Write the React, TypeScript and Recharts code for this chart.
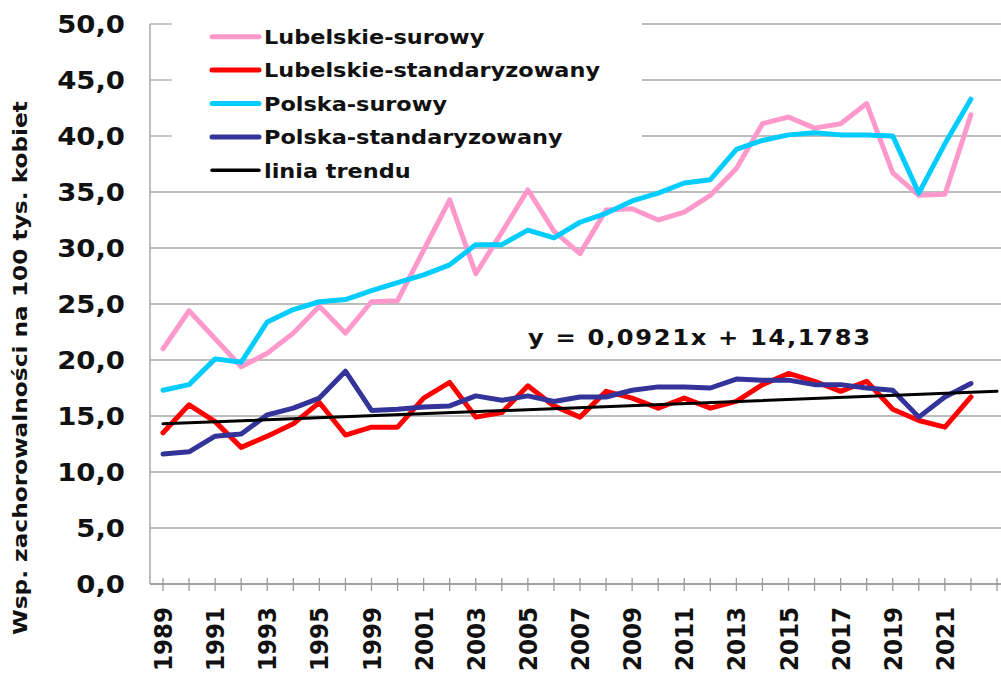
import React from 'react';
import { CartesianGrid, Line, LineChart, XAxis, YAxis } from 'recharts';

// categories (one year between 1995 and 1999 only; last slot is the trend's forward period)
const years = [
  '1989', '1990', '1991', '1992', '1993', '1994', '1995', '1997', '1999', '2000',
  '2001', '2002', '2003', '2004', '2005', '2006', '2007', '2008', '2009', '2010',
  '2011', '2012', '2013', '2014', '2015', '2016', '2017', '2018', '2019', '2020',
  '2021', '2022', '',
];
const labeledYears = [
  '1989', '1991', '1993', '1995', '1999', '2001', '2003', '2005',
  '2007', '2009', '2011', '2013', '2015', '2017', '2019', '2021',
];

const lubelskieSurowy = [
  21.0, 24.4, 21.9, 19.4, 20.6, 22.4, 24.8, 22.4, 25.2, 25.3,
  29.8, 34.3, 27.7, 31.4, 35.2, 31.5, 29.5, 33.4, 33.5, 32.5,
  33.2, 34.7, 37.1, 41.1, 41.7, 40.7, 41.1, 42.9, 36.7, 34.7,
  34.8, 41.9,
];
const lubelskieStd = [
  13.5, 16.0, 14.5, 12.2, 13.2, 14.3, 16.2, 13.3, 14.0, 14.0,
  16.6, 18.0, 14.9, 15.3, 17.7, 15.9, 14.9, 17.2, 16.6, 15.7,
  16.6, 15.7, 16.3, 17.8, 18.8, 18.1, 17.2, 18.1, 15.6, 14.6,
  14.0, 16.7,
];
const polskaSurowy = [
  17.3, 17.8, 20.1, 19.8, 23.4, 24.5, 25.2, 25.4, 26.2, 26.9,
  27.6, 28.5, 30.3, 30.3, 31.6, 30.9, 32.3, 33.1, 34.2, 34.9,
  35.8, 36.1, 38.8, 39.6, 40.1, 40.3, 40.1, 40.1, 40.0, 34.9,
  39.3, 43.3,
];
const polskaStd = [
  11.6, 11.8, 13.2, 13.4, 15.1, 15.7, 16.6, 19.0, 15.5, 15.6,
  15.8, 15.9, 16.8, 16.4, 16.8, 16.3, 16.7, 16.7, 17.3, 17.6,
  17.6, 17.5, 18.3, 18.2, 18.2, 17.8, 17.8, 17.5, 17.3, 14.9,
  16.7, 17.9,
];
// trend line end points
const trendStart = 14.3;
const trendEnd = 17.2;

const yTicks = [0, 5, 10, 15, 20, 25, 30, 35, 40, 45, 50];

const series = [
  { key: 'lubSur', name: 'Lubelskie-surowy', color: '#FF99CC', width: 5 },
  { key: 'lubStd', name: 'Lubelskie-standaryzowany', color: '#FF0000', width: 5 },
  { key: 'plSur', name: 'Polska-surowy', color: '#00CCFF', width: 5 },
  { key: 'plStd', name: 'Polska-standaryzowany', color: '#333399', width: 5 },
  { key: 'trend', name: 'linia trendu', color: '#000000', width: 3 },
];

const data = years.map((year, i) => ({
  year,
  lubSur: lubelskieSurowy[i] ?? null,
  lubStd: lubelskieStd[i] ?? null,
  plSur: polskaSurowy[i] ?? null,
  plStd: polskaStd[i] ?? null,
  trend: i === 0 ? trendStart : i === years.length - 1 ? trendEnd : null,
}));

const FONT = '"DejaVu Sans", Verdana, sans-serif';
const AXIS_GRAY = '#9a9a9a';
const GRID_GRAY = '#a6a6a6';

// legend box (white in the original, it hides the top gridlines)
const LEG = { x: 172, y: 20, w: 470, row: 33.4 };
const LEG_BOTTOM = LEG.y + LEG.row * series.length;

function GridLine(props: any) {
  const { x1, x2, y1, y2 } = props;
  const common = { stroke: GRID_GRAY, strokeWidth: 1.3, fill: 'none' };
  if (y1 > LEG.y && y1 < LEG_BOTTOM) {
    return (
      <g>
        <line x1={x1} x2={LEG.x} y1={y1} y2={y2} {...common} />
        <line x1={LEG.x + LEG.w} x2={x2} y1={y1} y2={y2} {...common} />
      </g>
    );
  }
  return <line x1={x1} x2={x2} y1={y1} y2={y2} {...common} />;
}

function YearTick(props: any) {
  const { x, y, payload } = props;
  const show = labeledYears.includes(payload.value);
  return (
    <g>
      <line x1={x} x2={x} y1={y - 6} y2={y + 7} stroke={AXIS_GRAY} strokeWidth={1.3} />
      {show && (
        <text
          transform={`translate(${x},${y + 23}) scale(1.1,1) rotate(-90)`}
          textAnchor="end"
          dy="0.36em"
          fontFamily={FONT}
          fontWeight="bold"
          fontSize={23}
          fill="#111"
        >
          {payload.value}
        </text>
      )}
    </g>
  );
}

function ValueTick(props: any) {
  const { x, y, payload } = props;
  return (
    <text
      transform={`translate(${x},${y}) scale(1.1,1)`}
      textAnchor="end"
      dy="0.36em"
      fontFamily={FONT}
      fontWeight="bold"
      fontSize={25}
      fill="#111"
    >
      {payload.value.toFixed(1).replace('.', ',')}
    </text>
  );
}

function LegendBox() {
  return (
    <g>
      {series.map((s, i) => {
        const cy = LEG.y + LEG.row * (i + 0.5);
        return (
          <g key={s.key}>
            <line
              x1={212}
              x2={259}
              y1={cy}
              y2={cy}
              stroke={s.color}
              strokeWidth={s.width === 5 ? 5 : 3.5}
              strokeLinecap="round"
            />
            <text
              transform={`translate(264,${cy + 7.3}) scale(1.12,1)`}
              fontFamily={FONT}
              fontWeight="bold"
              fontSize={20}
              fill="#111"
            >
              {s.name}
            </text>
          </g>
        );
      })}
    </g>
  );
}

export default function App() {
  return (
    <div style={{ position: 'absolute', left: 0, top: 0, width: 1001, height: 673 }}>
      <LineChart width={1001} height={673} data={data} margin={{ top: 24, right: 0, bottom: 0, left: 0 }}>
        <CartesianGrid vertical={false} horizontal={(p: any) => <GridLine {...p} />} />
        <XAxis
          dataKey="year"
          height={89}
          interval={0}
          padding={{ left: 13, right: 4 }}
          tickLine={false}
          tickSize={0}
          tickMargin={0}
          tick={<YearTick />}
          axisLine={{ stroke: AXIS_GRAY, strokeWidth: 1.3 }}
        />
        <YAxis
          width={150}
          domain={[0, 50]}
          ticks={yTicks}
          interval={0}
          tickLine={false}
          tickSize={0}
          tickMargin={25}
          tick={<ValueTick />}
          axisLine={{ stroke: AXIS_GRAY, strokeWidth: 1.3 }}
        />
        {series.map((s) => (
          <Line
            key={s.key}
            dataKey={s.key}
            name={s.name}
            type="linear"
            stroke={s.color}
            strokeWidth={s.width}
            strokeLinejoin="round"
            strokeLinecap="round"
            dot={false}
            activeDot={false}
            connectNulls={s.key === 'trend'}
            isAnimationActive={false}
          />
        ))}
      </LineChart>
      <svg
        width={1001}
        height={673}
        style={{ position: 'absolute', left: 0, top: 0, pointerEvents: 'none' }}
      >
        <LegendBox />
        <text
          transform="translate(27,368) rotate(-90)"
          textAnchor="middle"
          fontFamily={FONT}
          fontWeight="bold"
          fontSize={20}
          textLength={534}
          lengthAdjust="spacingAndGlyphs"
          fill="#111"
        >
          Wsp. zachorowalności na 100 tys. kobiet
        </text>
        <text
          transform="translate(528,345) scale(1.1,1)"
          fontFamily={FONT}
          fontWeight="bold"
          fontSize={22}
          textLength={311}
          lengthAdjust="spacing"
          fill="#111"
        >
          y = 0,0921x + 14,1783
        </text>
      </svg>
    </div>
  );
}
